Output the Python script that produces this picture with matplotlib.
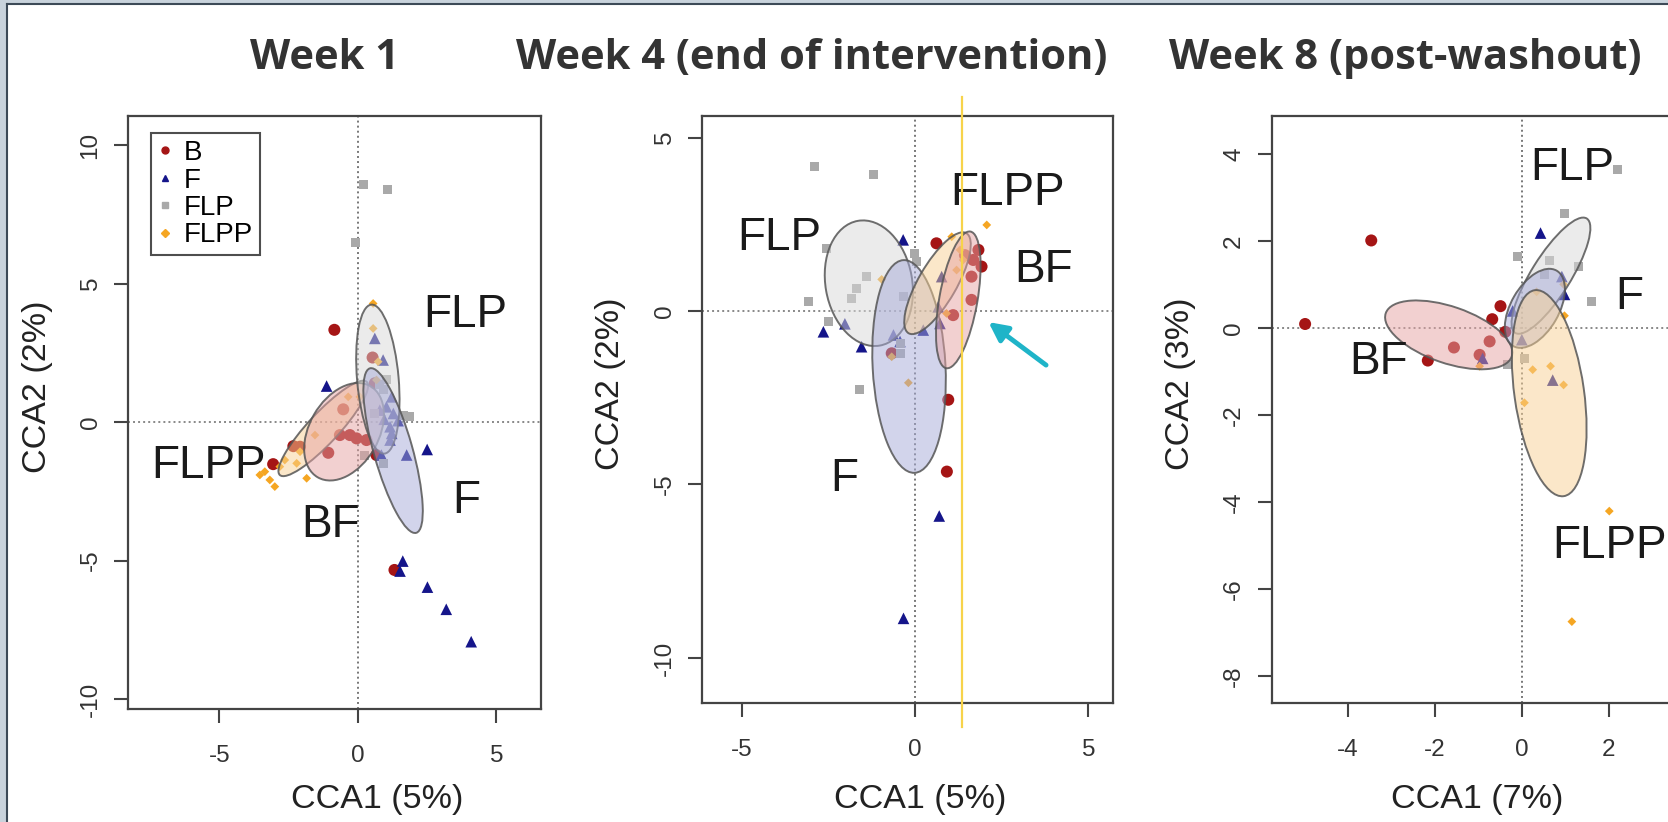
import matplotlib
matplotlib.use("Agg")
import matplotlib.pyplot as plt
from matplotlib.patches import Ellipse, Rectangle
from matplotlib.lines import Line2D

W, H = 1668, 822
DPI = 100

groups = ["B", "F", "FLP", "FLPP"]
colors = {"B": "#a51515", "F": "#15158a", "FLP": "#a9a9a9", "FLPP": "#f5a623"}
markers = {"B": "o", "F": "^", "FLP": "s", "FLPP": "D"}
sizes = {"B": 75, "F": 70, "FLP": 42, "FLPP": 20}

# ---- week 1 ----
w1_B_x = [-0.85, 0.53, -0.53, -0.29, -0.05, 0.31, -0.65, -1.07, -2.33, -2.09, -3.06, 0.67, 0.61, 1.32]
w1_B_y = [3.33, 2.33, 0.46, -0.47, -0.59, -0.65, -0.47, -1.11, -0.87, -0.89, -1.52, -1.19, 1.40, -5.34]
w1_F_x = [0.61, -1.13, 0.91, 1.22, 1.03, 1.28, 1.16, 1.22, 1.16, 0.85, 1.76, 2.50, 0.79, 1.62, 1.52, 2.51, 3.19, 4.09, 1.45, 0.95]
w1_F_y = [3.02, 1.30, 2.24, 0.91, 0.55, 0.31, -0.17, -0.41, -0.65, -1.19, -1.19, -0.99, 0.43, -5.02, -5.38, -5.96, -6.76, -7.93, 0.05, 0.10]
w1_FLP_x = [0.2, 1.06, -0.1, 1.88, 1.64, 0.25, 0.91, 0.79, 0.91, 1.03, 0.6]
w1_FLP_y = [8.56, 8.38, 6.47, 0.19, 0.25, -1.19, -1.49, 1.34, 1.16, 1.52, 0.3]
w1_FLPP_x = [-3.36, -3.18, -3.0, -2.82, -2.21, -1.85, -1.55, 0.07, 0.55, 0.55, 0.73, 0.67, -0.35, -2.09, -2.64, -3.54]
w1_FLPP_y = [-1.79, -2.09, -2.33, -1.61, -1.49, -2.03, -0.47, 0.91, 4.28, 3.38, 2.18, 1.52, 0.91, -1.07, -1.37, -1.91]

# ---- week 4 ----
w4_B_x = [0.62, 1.83, 1.92, 1.68, 1.63, 1.63, 1.10, 1.44, 0.96, 0.92, -0.67]
w4_B_y = [1.95, 1.76, 1.28, 1.47, 0.99, 0.32, -0.12, 1.61, -2.56, -4.63, -1.22]
w4_F_x = [-0.34, 0.77, 0.67, 0.72, 0.24, -0.62, -0.43, -1.54, -2.02, -2.64, 0.70, -0.33]
w4_F_y = [2.05, 0.99, 0.12, -0.36, -0.55, -0.69, -0.88, -1.03, -0.37, -0.60, -5.91, -8.86]
w4_FLP_x = [-2.9, -1.19, -2.55, -1.39, -1.68, -1.83, -3.07, -2.50, -0.34, 0.0, 0.05, -0.43, -0.43, -1.59]
w4_FLP_y = [4.16, 3.94, 1.81, 0.99, 0.65, 0.37, 0.27, -0.31, 0.41, 1.66, 1.42, -0.93, -1.22, -2.26]
w4_FLPP_x = [2.07, 1.06, -0.96, -0.67, -0.19, 1.39, 1.20, 0.91, 1.30]
w4_FLPP_y = [2.48, 2.14, 0.91, -1.32, -2.07, 1.47, 1.18, -0.07, 1.76]

# ---- week 8 ----
w8_B_x = [-3.46, -4.98, -2.16, -1.56, -0.97, -0.74, -0.68, -0.49, -0.38]
w8_B_y = [2.01, 0.09, -0.75, -0.45, -0.62, -0.31, 0.20, 0.50, -0.09]
w8_F_x = [0.43, 0.92, 0.98, -0.21, 0.0, -0.90, 0.71]
w8_F_y = [2.18, 1.18, 0.77, 0.39, -0.27, -0.70, -1.20]
w8_FLP_x = [2.19, 0.98, -0.11, 0.63, 0.52, 1.31, 1.59, 0.06, -0.33]
w8_FLP_y = [3.63, 2.63, 1.64, 1.56, 1.22, 1.40, 0.60, -0.70, -0.85]
w8_FLPP_x = [0.34, 0.96, 0.98, -0.97, 0.25, 0.66, 0.96, 0.06, 2.01, 1.15]
w8_FLPP_y = [0.83, 1.00, 0.28, -0.88, -0.96, -0.88, -1.31, -1.72, -4.21, -6.75]

# ellipses: (name, cx, cy, width, height, angle)
w1_ell = [("FLPP", -1.25, -0.23, 4.6, 1.1, 47), ("BF", -0.5, -0.35, 3.8, 2.5, 60),
          ("FLP", 0.72, 1.55, 5.4, 1.5, 95), ("F", 1.27, -1.03, 6.17, 1.4, 105.7)]
w4_ell = [("FLP", -1.33, 0.8, 2.5, 3.65, 10), ("F", -0.17, -1.6, 6.14, 2.1, 93),
          ("FLPP", 0.65, 0.8, 3.33, 1.1, 60), ("BF", 1.25, 0.32, 4.0, 1.1, 80)]
w8_ell = [("BF", -1.68, -0.16, 3.06, 1.3, -19), ("FLP", 0.67, 1.2, 3.1, 0.9, 58),
          ("F", 0.3, 0.45, 2.0, 1.1, 60), ("FLPP", 0.63, -1.5, 4.78, 1.6, 98)]
ell_fill = {"BF": "#e6a3a3", "FLP": "#d9d9d9", "F": "#a7abd8", "FLPP": "#f8d094"}

# group labels inside panels
w1_lab = [("FLP", 3.86, 3.86), ("FLPP", -5.38, -1.6), ("BF", -1.0, -3.7), ("F", 3.9, -2.86)]
w4_lab = [("FLP", -3.9, 2.09), ("FLPP", 2.68, 3.39), ("BF", 3.71, 1.18), ("F", -2.05, -4.83)]
w8_lab = [("FLP", 1.16, 3.67), ("F", 2.46, 0.70), ("BF", -3.29, -0.79), ("FLPP", 2.02, -5.02)]

titles = ["Week 1", "Week 4 (end of intervention)", "Week 8 (post-washout)"]
xlabels = ["CCA1 (5%)", "CCA1 (5%)", "CCA1 (7%)"]
ylabels = ["CCA2 (2%)", "CCA2 (2%)", "CCA2 (3%)"]

RFONT = "Liberation Sans"

fig = plt.figure(figsize=(W / DPI, H / DPI), dpi=DPI)


def px_axes(l, r, t, b):
    return fig.add_axes([l / W, 1 - b / H, (r - l) / W, (b - t) / H])


panels = [
    dict(box=(128, 541, 116, 709), xlim=(-8.30, 6.61), ylim=(-10.36, 11.05),
         xt=[-5, 0, 5], yt=[-10, -5, 0, 5, 10],
         pts={"B": (w1_B_x, w1_B_y), "F": (w1_F_x, w1_F_y), "FLP": (w1_FLP_x, w1_FLP_y), "FLPP": (w1_FLPP_x, w1_FLPP_y)},
         ell=w1_ell, lab=w1_lab, title_x=325, xl=(377, 799), yl=(38, 387)),
    dict(box=(702, 1113, 116, 703), xlim=(-6.14, 5.71), ylim=(-11.30, 5.62),
         xt=[-5, 0, 5], yt=[-10, -5, 0, 5],
         pts={"B": (w4_B_x, w4_B_y), "F": (w4_F_x, w4_F_y), "FLP": (w4_FLP_x, w4_FLP_y), "FLPP": (w4_FLPP_x, w4_FLPP_y)},
         ell=w4_ell, lab=w4_lab, title_x=812, xl=(920, 799), yl=(611, 384)),
    dict(box=(1271.6, 1685, 116, 703), xlim=(-5.75, 3.75), ylim=(-8.62, 4.87),
         xt=[-4, -2, 0, 2], yt=[-8, -6, -4, -2, 0, 2, 4],
         pts={"B": (w8_B_x, w8_B_y), "F": (w8_F_x, w8_F_y), "FLP": (w8_FLP_x, w8_FLP_y), "FLPP": (w8_FLPP_x, w8_FLPP_y)},
         ell=w8_ell, lab=w8_lab, title_x=1405, xl=(1477, 799), yl=(1180, 384)),
]

axes = []
for i, p in enumerate(panels):
    ax = px_axes(*p["box"])
    axes.append(ax)
    ax.set_xlim(*p["xlim"])
    ax.set_ylim(*p["ylim"])
    ax.set_xticks(p["xt"])
    ax.set_yticks(p["yt"])
    ax.set_xticklabels([str(v) for v in p["xt"]], fontfamily=RFONT)
    ax.set_yticklabels([str(v) for v in p["yt"]], fontfamily=RFONT, rotation=90, va="center")
    ax.tick_params(length=10, width=1.5, color="#444444", labelsize=17.5, labelcolor="#333333")
    ax.tick_params(axis="x", pad=16)
    ax.tick_params(axis="y", pad=9)
    for s in ax.spines.values():
        s.set_color("#444444")
        s.set_linewidth(1.6)

    ax.axhline(0, color="#888888", lw=1.4, ls=(0, (1, 1.6)), zorder=1)
    ax.axvline(0, color="#777777", lw=1.4, ls=(0, (1, 1.6)), zorder=1)

    for g in groups:
        xs, ys = p["pts"][g]
        ax.scatter(xs, ys, s=sizes[g], marker=markers[g], color=colors[g],
                   edgecolors="none", zorder=2)

    for name, cx, cy, w, h, ang in p["ell"]:
        ax.add_patch(Ellipse((cx, cy), w, h, angle=ang, facecolor=ell_fill[name],
                             edgecolor="none", alpha=0.5, zorder=3))
        ax.add_patch(Ellipse((cx, cy), w, h, angle=ang, facecolor="none",
                             edgecolor="#555555", lw=1.4, alpha=0.85, zorder=3))

    for txt, tx, ty in p["lab"]:
        ax.text(tx, ty, txt, fontsize=33, fontfamily=RFONT, color="#1a1a1a",
                ha="center", va="center", zorder=5)

    fig.text(p["title_x"] / W, 1 - 69 / H, titles[i], fontsize=30, fontweight="bold",
             fontfamily="Open Sans", color="#333333", ha="center", va="baseline")
    fig.text(p["xl"][0] / W, 1 - p["xl"][1] / H, xlabels[i], fontsize=24.5,
             fontfamily=RFONT, color="#222222", ha="center", va="center")
    fig.text(p["yl"][0] / W, 1 - p["yl"][1] / H, ylabels[i], fontsize=24.5,
             fontfamily=RFONT, color="#222222", ha="center", va="center", rotation=90)

# legend on first panel
handles = [Line2D([], [], ls="none", marker=markers[g], color=colors[g],
                  markersize=5 if g != "FLPP" else 4) for g in groups]
leg = axes[0].legend(handles, groups, loc="upper left", bbox_to_anchor=(0.055, 0.971),
                     prop={"family": RFONT, "size": 20}, frameon=True, fancybox=False,
                     edgecolor="#222222", handlelength=0.5, handletextpad=0.45,
                     labelspacing=0.05, borderpad=0.25, borderaxespad=0)
leg.get_frame().set_linewidth(1.5)

# annotations on week 4 panel
ax2 = axes[1]
ax2.plot([1.37, 1.37], [-11.99, 6.17], color="#f7d34a", lw=1.6, clip_on=False, zorder=6)
ax2.annotate("", xy=(2.12, -0.32), xytext=(3.78, -1.56),
             arrowprops=dict(arrowstyle="-|>", color="#1fb4c8", lw=3.5, mutation_scale=28,
                             shrinkA=0, shrinkB=0), zorder=7)

# screenshot frame
fig.patches.append(Rectangle((0, 0), 7 / W, 1, transform=fig.transFigure,
                             facecolor="#c9d3dc", edgecolor="none", zorder=10))
fig.patches.append(Rectangle((0, 1 - 4 / H), 1, 4 / H, transform=fig.transFigure,
                             facecolor="#c9d3dc", edgecolor="none", zorder=10))
fig.lines.append(Line2D([7 / W, 7 / W], [0, 1 - 4 / H], transform=fig.transFigure,
                        color="#3d4a57", lw=1.5, zorder=11))
fig.lines.append(Line2D([7 / W, 1], [1 - 4 / H, 1 - 4 / H], transform=fig.transFigure,
                        color="#3d4a57", lw=1.5, zorder=11))

fig.savefig("out.png", dpi=DPI)
